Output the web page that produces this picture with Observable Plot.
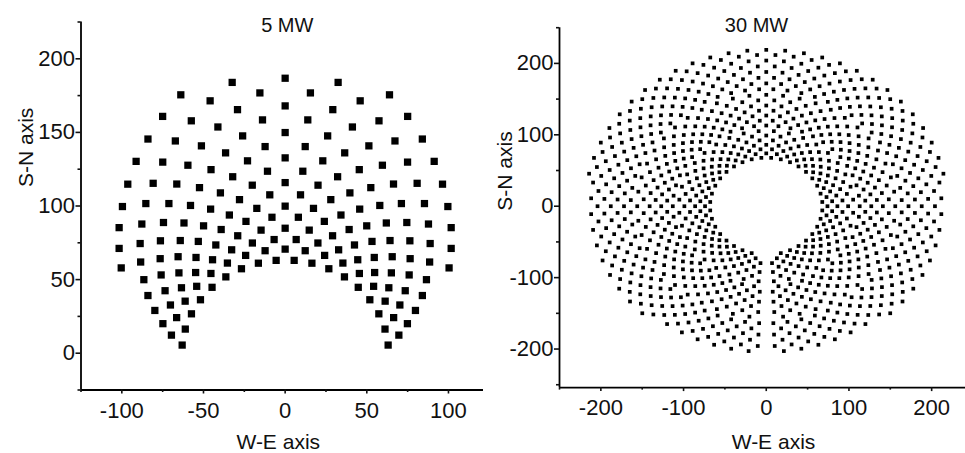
<!DOCTYPE html>
<html><head><meta charset="utf-8">
<script src="https://cdn.jsdelivr.net/npm/d3@7"></script>
<script src="https://cdn.jsdelivr.net/npm/@observablehq/plot@0.6"></script>
<style>
html,body{margin:0;padding:0;background:#fff;}
#wrap{position:relative;width:965px;height:453px;overflow:hidden;background:#fff;}
#left,#right{position:absolute;top:0;}
#left{left:0;} #right{left:483px;}
</style></head><body>
<div id="wrap"><div id="left"></div><div id="right"></div></div>
<script>
// ---------- 5 MW field: rows of heliostats (radius from tower, half angular span from north, 10° apart)
const leftTitle = "5 MW";
const leftRowRadius   = [63.3, 70.7, 77.5, 84.9, 92.7, 99.9, 108, 115.9, 124.1, 132.7, 140.9, 149.9, 159.1, 168, 177.5, 186.8];
const leftRowHalfSpan = [85, 80, 75, 70, 65, 60, 55, 60, 55, 50, 45, 40, 35, 30, 25, 20];
const leftAngleStep = 10;
const leftXMajor = [-100, -50, 0, 50, 100];
const leftXMinor = [-125, -75, -25, 25, 75];
const leftYMajor = [0, 50, 100, 150, 200];
const leftYMinor = [-25, 25, 75, 125, 175, 225];

// ---------- 30 MW field: concentric staggered rows (radius, heliostats per full circle, stagger phase)
const rightTitle = "30 MW";
const rightRowRadius = [68, 74, 80, 86, 92.5, 99, 105.5, 113, 120, 127, 134, 141, 148.5, 156, 164, 172, 180, 188, 196, 204, 212, 219];
const rightRowCount  = [36, 36, 36, 36, 36, 36, 36, 48, 48, 48, 48, 48, 48, 48, 60, 60, 60, 60, 60, 60, 60, 60];
const rightRowPhase  = [0.5, 0, 0.5, 0, 0.5, 0, 0.5, 0, 0.5, 0, 0.5, 0, 0.5, 0, 0.5, 0, 0.5, 0, 0.5, 0, 0.5, 0];
const rightOuterCenterY = 8;
const rightOuterRadius = 218;
const rightCorridorHalfWidth = 6;
const rightXMajor = [-200, -100, 0, 100, 200];
const rightXMinor = [-250, -150, -50, 50, 150, 250];
const rightYMajor = [-200, -100, 0, 100, 200];
const rightYMinor = [-250, -150, -50, 50, 150, 250];

const FONT = "'Liberation Sans', Arial, Helvetica, sans-serif";
const rad = Math.PI / 180;

const leftPoints = [];
leftRowRadius.forEach((r, i) => {
  const h = leftRowHalfSpan[i];
  for (let a = -h; a <= h + 1e-9; a += leftAngleStep) {
    leftPoints.push({x: r * Math.sin(a * rad), y: r * Math.cos(a * rad)});
  }
});

const rightPoints = [];
rightRowRadius.forEach((r, i) => {
  const n = rightRowCount[i];
  for (let k = 0; k < n; k++) {
    const a = (k + rightRowPhase[i]) * 360 / n;
    const x = r * Math.sin(a * rad), y = r * Math.cos(a * rad);
    if (y < 0 && Math.abs(x) < rightCorridorHalfWidth) continue;
    if (x * x + (y - rightOuterCenterY) ** 2 > rightOuterRadius ** 2) continue;
    rightPoints.push({x, y});
  }
});

const fmt = d => d < 0 ? "-" + Math.abs(d) : String(d);

function panel(o) {
  return Plot.plot({
    width: o.width, height: 453,
    marginLeft: o.ml, marginRight: 0, marginTop: o.mt, marginBottom: o.mb,
    style: {fontFamily: FONT, fontSize: "22px", color: "#111", background: "white", overflow: "visible"},
    x: {domain: o.xDomain, range: o.xRange},
    y: {domain: o.yDomain, range: o.yRange},
    marks: [
      Plot.dot(o.points, {x: "x", y: "y", symbol: "square", r: o.r, fill: "black", stroke: "none"}),
      Plot.ruleY([o.yDomain[0]], {stroke: "black", strokeWidth: 1.8}),
      Plot.ruleX([o.xDomain[0]], {stroke: "black", strokeWidth: 1.8}),
      Plot.axisX({ticks: o.xMajor, tickSize: 4, tickPadding: 8, fontSize: 22, label: null, strokeWidth: 1.6, tickFormat: fmt}),
      Plot.axisX({ticks: o.xMinor, tickSize: 2.5, tickFormat: () => "", label: null, strokeWidth: 1.6}),
      Plot.axisY({ticks: o.yMajor, tickSize: 5, tickPadding: 1, fontSize: 22, label: null, strokeWidth: 1.6, tickFormat: fmt}),
      Plot.axisY({ticks: o.yMinor, tickSize: 3, tickFormat: () => "", label: null, strokeWidth: 1.6}),
      Plot.text([o.title], {frameAnchor: "top", dx: o.titleDx, dy: o.titleDy, fontSize: 20, fill: "#111"}),
      Plot.text(["W-E axis"], {frameAnchor: "bottom", dx: o.xlabDx, dy: o.xlabDy, fontSize: 21, fill: "#111"}),
      Plot.text(["S-N axis"], {frameAnchor: "left", dx: o.ylabDx, dy: o.ylabDy, rotate: -90, fontSize: 21, fill: "#111"})
    ]
  });
}

document.getElementById("left").append(panel({
  width: 483, ml: 80.5, mt: 21.5, mb: 63.5,
  xDomain: [-125, 125], xRange: [80.5, 488.8],
  yDomain: [-25, 225], yRange: [389.5, 21.5],
  points: leftPoints, r: 4.1,
  xMajor: leftXMajor, xMinor: leftXMinor, yMajor: leftYMajor, yMinor: leftYMinor,
  title: leftTitle, titleDx: 5, titleDy: -4,
  xlabDx: -4, xlabDy: 59, ylabDx: -54.5, ylabDy: -19
}));

document.getElementById("right").append(panel({
  width: 482, ml: 76, mt: 27.2, mb: 65.9,
  xDomain: [-250, 250], xRange: [76, 489.5],
  yDomain: [-254, 250], yRange: [387.1, 27.2],
  points: rightPoints, r: 2.1,
  xMajor: rightXMajor, xMinor: rightXMinor, yMajor: rightYMajor, yMinor: rightYMinor,
  title: rightTitle, titleDx: -6, titleDy: -10,
  xlabDx: 11, xlabDy: 61, ylabDx: -54, ylabDy: 3
}));
</script></body></html>
